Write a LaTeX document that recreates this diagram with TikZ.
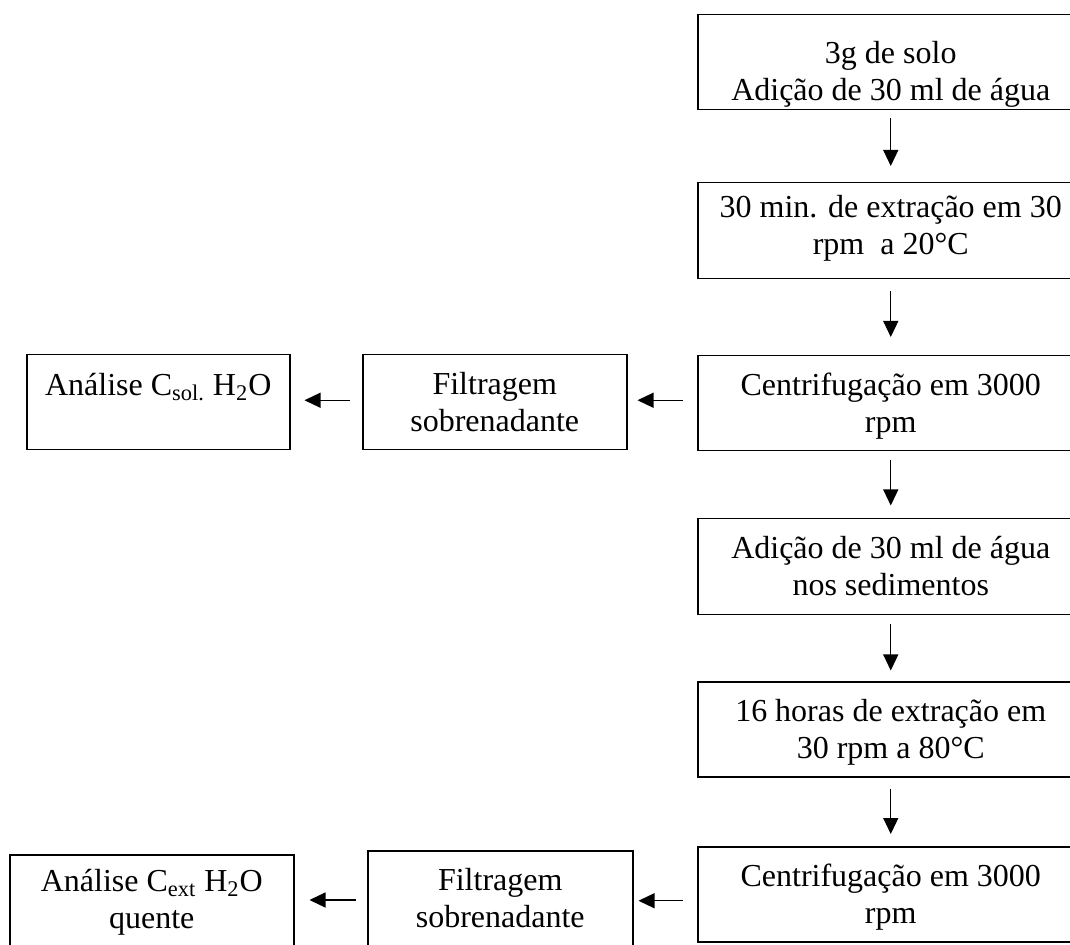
\documentclass[tikz,border=0pt]{standalone}
\usepackage{fontspec}
\setmainfont{Liberation Serif}
\usetikzlibrary{arrows.meta}
\newcommand{\bxt}[4][20pt]{\parbox[c][#3][t]{#2}{\centering\rule{0pt}{#1}#4}}
\tikzset{
  box/.style={draw, line width=0.75pt, rectangle, inner sep=0pt, anchor=north west,
    font=\fontsize{16}{18.4}\selectfont},
  arr/.style={line width=0.6pt, -{Triangle[length=8pt,width=7.5pt]}}
}
\begin{document}
\begin{tikzpicture}[x=0.5pt,y=-0.5pt]
\useasboundingbox (0,0) rectangle (1070,945);
\clip (0,0) rectangle (1070,945);
% right column
\node[box] (b1) at (697,14)  {\bxt[24.5pt]{193pt}{47.5pt}{3g de solo\\Adição de 30 ml de água}};
\node[box] (b2) at (697,182) {\bxt[17.5pt]{193pt}{48pt}{30 min. de extração em 30\\rpm\ \ a 20°C}};
\node[box] (b3) at (697,355) {\bxt{193pt}{47.5pt}{Centrifugação em 3000\\rpm}};
\node[box] (b4) at (697,518) {\bxt{193pt}{48pt}{Adição de 30 ml de água\\nos sedimentos}};
\node[box] (b5) at (697,681) {\bxt{193pt}{47.5pt}{16 horas de extração em\\30 rpm a 80°C}};
\node[box] (b6) at (697,846) {\bxt{193pt}{47.5pt}{Centrifugação em 3000\\rpm}};
% row 1
\node[box] (f1) at (362,354) {\bxt{132pt}{47.5pt}{Filtragem\\sobrenadante}};
\node[box] (a1) at (26,354)  {\bxt[20.5pt]{131.5pt}{47.5pt}{Análise C\textsubscript{sol.} H\textsubscript{2}O}};
% row 2
\node[box] (f2) at (367,850) {\bxt{132.5pt}{56pt}{Filtragem\\sobrenadante}};
\node[box] (a2) at (9,854)   {\bxt[18.5pt]{142pt}{56pt}{Análise C\textsubscript{ext} H\textsubscript{2}O\\quente}};
% vertical arrows
\draw[arr, shorten <=4pt,   shorten >=8pt]    (b1.south) -- (b2.north);
\draw[arr, shorten <=6pt,   shorten >=9pt]    (b2.south) -- (b3.north);
\draw[arr, shorten <=4.5pt, shorten >=6.25pt] (b3.south) -- (b4.north);
\draw[arr, shorten <=4.5pt, shorten >=5.25pt] (b4.south) -- (b5.north);
\draw[arr, shorten <=5.5pt, shorten >=6pt]    (b5.south) -- (b6.north);
% horizontal arrows
\draw[arr, shorten <=7pt, shorten >=5pt] ([yshift=1.5pt]b3.west) -- ([yshift=1.5pt]b3.west -| f1.east);
\draw[arr, shorten <=6pt, shorten >=7pt] ([yshift=1pt]f1.west) -- ([yshift=1pt]f1.west -| a1.east);
\draw[arr, shorten <=7pt, shorten >=2.5pt] ([yshift=-3.25pt]b6.west) -- ([yshift=-3.25pt]b6.west -| f2.east);
\coordinate (r2) at (0,900);
\draw[arr, shorten <=5.5pt, shorten >=7.5pt] (f2.west |- r2) -- (a2.east |- r2);
\end{tikzpicture}
\end{document}
